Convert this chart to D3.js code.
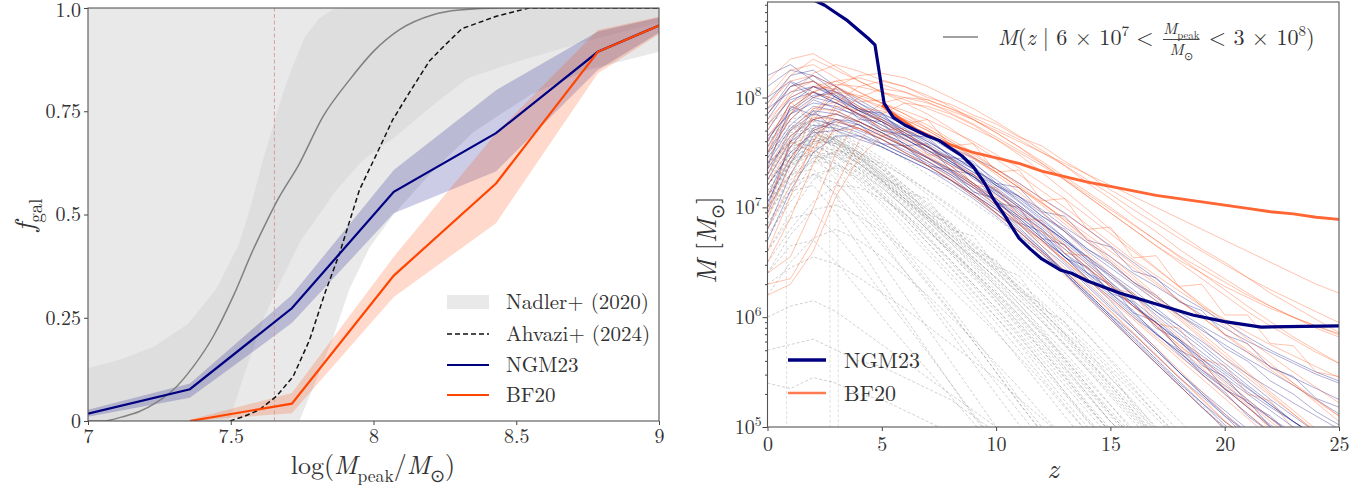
<!DOCTYPE html>
<html>
<head>
<meta charset="utf-8">
<script src="https://cdn.jsdelivr.net/npm/d3@7"></script>
<style>
  body { margin: 0; background: #fff; }
  svg text { fill: #333; white-space: pre; }
</style>
</head>
<body>
<svg id="fig" width="1366" height="490"></svg>
<script>
// ---------------- left panel: galaxy occupation fraction ----------------
const massTicks = [7, 7.5, 8, 8.5, 9];
const massTickLabels = ["7", "7.5", "8", "8.5", "9"];
const fracTicks = [0, 0.25, 0.5, 0.75, 1.0];
const fracTickLabels = ["0", "0.25", "0.5", "0.75", "1.0"];

// Nadler+ (2020): wide and narrow envelopes, [logMpeak, f]
const nadlerOuterUpper = [[7, 1], [9, 1]];
const nadlerOuterLower = [[7, 0], [7.74, 0], [7.80, 0.10], [7.857, 0.20], [7.916, 0.32], [7.986, 0.42],
  [8.07, 0.50], [8.2, 0.60], [8.35, 0.70], [8.55, 0.79], [8.75, 0.85], [9, 0.894]];
const nadlerInnerUpper = [[7, 0.128], [7.12, 0.15], [7.23, 0.18], [7.35, 0.235], [7.45, 0.32], [7.53, 0.43],
  [7.57, 0.52], [7.613, 0.632], [7.648, 0.713], [7.683, 0.793], [7.718, 0.86], [7.76, 0.93],
  [7.81, 0.975], [7.86, 0.997], [7.9, 1], [9, 1]];
const nadlerInnerLower = [[7, 0], [7.495, 0], [7.548, 0.115], [7.618, 0.253], [7.676, 0.341], [7.746, 0.438],
  [7.79, 0.48], [7.87, 0.56], [7.963, 0.632], [8.08, 0.69], [8.2, 0.76], [8.33, 0.83], [8.5, 0.87],
  [8.75, 0.92], [9, 0.965]];

// grey reference curve (smooth)
const greyCurve = [[7.0, 0], [7.054, 0.0], [7.12, 0.01], [7.18, 0.023], [7.24, 0.045], [7.298, 0.075],
  [7.368, 0.131], [7.438, 0.204], [7.508, 0.301], [7.578, 0.414], [7.62, 0.475], [7.66, 0.53],
  [7.741, 0.624], [7.823, 0.737], [7.916, 0.826], [8.0, 0.895], [8.09, 0.947], [8.206, 0.983],
  [8.30, 0.995], [8.45, 1.0], [9, 1.0]];

// Ahvazi+ (2024)
const ahvaziCurve = [[7.497, 0], [7.55, 0.012], [7.6, 0.027], [7.66, 0.06], [7.718, 0.107], [7.776, 0.196],
  [7.83, 0.31], [7.881, 0.406], [7.951, 0.56], [8.01, 0.645], [8.067, 0.729], [8.13, 0.80],
  [8.196, 0.872], [8.25, 0.91], [8.31, 0.95], [8.43, 0.98], [8.545, 1.0], [9, 1.0]];

// NGM23 and BF20 binned results
const ngmBins = [7.0, 7.357, 7.714, 8.071, 8.429, 8.786, 9.143];
const ngmFrac = [0.018, 0.077, 0.273, 0.555, 0.697, 0.894, 1.0];
const ngmLow = [0.010, 0.056, 0.237, 0.503, 0.604, 0.850, 1.0];
const ngmHigh = [0.027, 0.091, 0.305, 0.608, 0.801, 0.943, 1.0];

const bfBins = [7.357, 7.714, 8.071, 8.429, 8.786, 9.143];
const bfFrac = [0.0, 0.042, 0.352, 0.575, 0.894, 1.0];
const bfLow = [0.0, 0.019, 0.300, 0.479, 0.842, 1.0];
const bfHigh = [0.003, 0.068, 0.398, 0.697, 0.947, 1.0];

const massCut = 7.653;

// ---------------- right panel: mass accretion histories ----------------
const zTicks = [0, 5, 10, 15, 20, 25];
const massDecades = [5, 6, 7, 8];

// log10 M at z = 0, 1, 2, ... for NGM23 haloes
const ngmTracks = [
  [7.55,7.90,8.05,7.95,7.85,7.72,7.63,7.50,7.38,7.22,7.05,6.90,6.72,6.55,6.35,6.18,6.00,5.85,5.68,5.52,5.38,5.22,5.08,4.95],
  [7.80,8.10,8.15,8.00,7.88,7.80,7.70,7.58,7.45,7.32,7.18,7.02,6.85,6.70,6.52,6.38,6.20,6.05,5.92,5.78,5.62,5.48,5.35,5.22,5.10,4.98],
  [7.30,7.70,7.85,7.80,7.70,7.62,7.50,7.40,7.28,7.12,6.98,6.80,6.62,6.42,6.22,6.02,5.85,5.65,5.45,5.28,5.10,4.95],
  [7.95,8.20,8.25,8.10,7.95,7.85,7.75,7.65,7.52,7.40,7.25,7.10,6.95,6.78,6.60,6.45,6.30,6.15,6.02,5.88,5.75,5.62,5.50,5.38,5.25,5.12],
  [7.10,7.55,7.80,7.85,7.75,7.65,7.55,7.42,7.30,7.15,7.00,6.82,6.62,6.40,6.18,5.98,5.78,5.58,5.38,5.18,5.00,4.85],
  [7.65,7.85,7.95,7.92,7.82,7.70,7.62,7.52,7.40,7.28,7.12,6.98,6.82,6.65,6.48,6.30,6.12,5.95,5.78,5.60,5.42,5.25,5.08,4.92],
  [6.80,7.30,7.65,7.80,7.78,7.68,7.58,7.45,7.32,7.18,7.02,6.85,6.65,6.48,6.28,6.08,5.90,5.70,5.50,5.32,5.15,4.98],
  [8.10,8.25,8.20,8.05,7.92,7.80,7.68,7.55,7.42,7.28,7.15,7.00,6.85,6.70,6.55,6.40,6.25,6.08,5.92,5.75,5.58,5.42,5.25,5.10,4.95],
  [7.45,7.75,7.92,7.88,7.78,7.68,7.55,7.45,7.35,7.22,7.08,6.92,6.75,6.55,6.35,6.15,5.92,5.72,5.50,5.30,5.10,4.90],
  [7.70,8.00,8.10,8.02,7.90,7.78,7.66,7.55,7.44,7.32,7.20,7.08,6.92,6.78,6.62,6.48,6.32,6.18,6.05,5.92,5.80,5.68,5.55,5.45,5.35,5.25],
  [7.25,7.60,7.75,7.72,7.65,7.55,7.45,7.35,7.22,7.08,6.92,6.75,6.58,6.40,6.20,6.00,5.80,5.60,5.40,5.22,5.05,4.90],
  [7.90,8.05,8.10,8.00,7.90,7.82,7.72,7.60,7.48,7.35,7.20,7.05,6.88,6.72,6.55,6.38,6.22,6.05,5.88,5.72,5.55,5.38,5.22,5.05,4.92],
  [6.95,7.40,7.70,7.78,7.72,7.62,7.52,7.42,7.30,7.18,7.05,6.90,6.72,6.55,6.38,6.20,6.02,5.85,5.68,5.50,5.35,5.18,5.02,4.88],
  [7.60,7.95,8.10,8.05,7.95,7.82,7.70,7.60,7.48,7.35,7.22,7.06,6.90,6.72,6.52,6.32,6.12,5.92,5.72,5.52,5.35,5.18,5.00,4.85],
  [8.00,8.15,8.05,7.95,7.85,7.75,7.65,7.55,7.45,7.35,7.22,7.10,6.98,6.82,6.68,6.55,6.40,6.28,6.15,6.02,5.90,5.78,5.68,5.58,5.48,5.40],
  [7.35,7.65,7.80,7.75,7.68,7.58,7.48,7.38,7.25,7.12,6.95,6.78,6.60,6.42,6.22,6.02,5.82,5.62,5.42,5.22,5.02,4.85],
  [7.50,7.85,8.00,7.95,7.85,7.75,7.62,7.52,7.40,7.28,7.15,7.00,6.85,6.68,6.50,6.32,6.15,5.98,5.80,5.62,5.45,5.30,5.15,5.00,4.88],
  [6.70,7.15,7.50,7.65,7.65,7.58,7.48,7.38,7.25,7.10,6.95,6.78,6.60,6.40,6.20,6.00,5.78,5.58,5.38,5.18,4.98],
  [7.85,8.10,8.20,8.10,7.98,7.86,7.75,7.65,7.55,7.45,7.35,7.22,7.08,6.95,6.80,6.65,6.50,6.35,6.20,6.08,5.95,5.82,5.70,5.60,5.50,5.42],
  [7.40,7.72,7.88,7.85,7.78,7.68,7.58,7.46,7.34,7.20,7.05,6.88,6.70,6.50,6.30,6.10,5.90,5.70,5.50,5.30,5.12,4.95],
  [7.75,7.98,8.05,7.98,7.88,7.78,7.68,7.56,7.42,7.28,7.12,6.96,6.80,6.62,6.45,6.28,6.10,5.95,5.78,5.62,5.48,5.32,5.18,5.05,4.92],
  [7.20,7.50,7.68,7.70,7.62,7.55,7.45,7.35,7.25,7.12,6.98,6.85,6.70,6.55,6.40,6.25,6.10,5.95,5.80,5.65,5.50,5.35,5.20,5.05,4.90],
  [8.20,8.30,8.15,8.00,7.88,7.78,7.66,7.55,7.42,7.30,7.16,7.02,6.86,6.70,6.54,6.36,6.20,6.02,5.85,5.68,5.52,5.36,5.20,5.05,4.92],
  [7.05,7.45,7.72,7.80,7.75,7.65,7.55,7.45,7.33,7.20,7.06,6.92,6.76,6.58,6.40,6.22,6.04,5.86,5.66,5.48,5.30,5.12,4.95],
  [7.48,7.80,7.98,7.90,7.84,7.70,7.66,7.52,7.44,7.26,7.14,6.94,6.80,6.58,6.44,6.22,6.06,5.84,5.70,5.48,5.32,5.10,4.95],
  [7.62,7.88,8.02,8.04,7.90,7.84,7.70,7.62,7.46,7.38,7.20,7.10,6.92,6.80,6.62,6.50,6.32,6.20,6.02,5.90,5.72,5.60,5.42,5.30,5.14,5.02],
  [7.36,7.92,7.84,8.02,7.80,7.78,7.56,7.58,7.34,7.30,7.04,7.00,6.72,6.66,6.40,6.30,6.04,5.96,5.70,5.60,5.34,5.24,5.00,4.90],
  [7.00,7.60,7.88,7.70,7.76,7.58,7.56,7.38,7.34,7.14,7.08,6.86,6.78,6.54,6.46,6.22,6.14,5.90,5.80,5.56,5.46,5.22,5.10,4.90],
  [7.85,8.14,8.00,8.08,7.88,7.86,7.66,7.64,7.46,7.42,7.22,7.18,6.96,6.92,6.70,6.64,6.42,6.36,6.14,6.06,5.84,5.76,5.54,5.46,5.26,5.18]
];

// log10 M at z = 0, 1, 2, ... for BF20 haloes
const bfTracks = [
  [7.40,7.85,8.10,8.15,8.05,7.95,7.85,7.75,7.62,7.50,7.35,7.20,7.05,6.88,6.70,6.52,6.35,6.18,6.00,5.82,5.65,5.48,5.30,5.12,4.95],
  [6.30,6.35,6.70,7.20,7.60,7.85,7.95,7.92,7.85,7.75,7.62,7.48,7.32,7.15,6.98,6.80,6.62,6.45,6.28,6.10,5.92,5.75,5.58,5.40,5.22,5.05],
  [7.90,8.20,8.35,8.25,8.15,8.05,7.98,7.90,7.82,7.72,7.62,7.50,7.38,7.25,7.10,6.95,6.80,6.65,6.52,6.40,6.28,6.18,6.08,6.00,5.92,5.85],
  [7.60,7.95,8.05,7.98,7.85,7.72,7.60,7.48,7.35,7.20,7.02,6.85,6.65,6.45,6.25,6.05,5.85,5.65,5.45,5.25,5.05,4.88],
  [6.60,7.10,7.60,7.95,8.10,8.15,8.10,8.02,7.92,7.80,7.68,7.55,7.40,7.25,7.10,6.95,6.80,6.65,6.50,6.35,6.20,6.05,5.92,5.80,5.68,5.58],
  [8.00,8.25,8.30,8.18,8.05,7.95,7.85,7.72,7.60,7.46,7.32,7.18,7.02,6.85,6.68,6.50,6.32,6.15,5.98,5.80,5.62,5.45,5.28,5.12,4.96],
  [7.20,7.55,7.80,7.85,7.78,7.66,7.55,7.42,7.28,7.12,6.95,6.78,6.58,6.38,6.18,5.98,5.78,5.58,5.38,5.18,4.98],
  [6.90,7.40,7.85,8.10,8.20,8.22,8.18,8.10,8.00,7.90,7.78,7.65,7.52,7.38,7.22,7.08,6.92,6.78,6.62,6.48,6.35,6.22,6.10,6.00,5.90,5.82],
  [7.75,8.05,8.15,8.05,7.92,7.80,7.68,7.56,7.44,7.30,7.16,7.00,6.84,6.66,6.48,6.30,6.10,5.92,5.72,5.54,5.35,5.18,5.00,4.85],
  [6.50,6.90,7.40,7.75,7.90,7.88,7.80,7.70,7.58,7.45,7.30,7.14,6.96,6.78,6.58,6.40,6.20,6.00,5.82,5.62,5.44,5.25,5.08,4.90],
  [8.15,8.35,8.40,8.28,8.15,8.05,7.95,7.85,7.72,7.58,7.44,7.30,7.15,7.00,6.84,6.68,6.52,6.38,6.24,6.10,5.98,5.86,5.75,5.65,5.55,5.45],
  [7.35,7.70,7.90,7.88,7.78,7.68,7.56,7.45,7.32,7.18,7.02,6.86,6.70,6.52,6.35,6.18,6.00,5.82,5.65,5.48,5.30,5.12,4.95],
  [7.00,7.30,7.60,7.85,8.00,8.08,8.05,7.98,7.90,7.82,7.72,7.62,7.50,7.38,7.25,7.12,6.98,6.85,6.72,6.60,6.48,6.36,6.25,6.15,6.05,5.95],
  [7.85,8.10,8.15,8.02,7.90,7.78,7.66,7.52,7.38,7.22,7.05,6.88,6.70,6.52,6.32,6.12,5.92,5.72,5.52,5.32,5.12,4.92],
  [6.80,7.20,7.55,7.70,7.72,7.65,7.56,7.46,7.35,7.22,7.08,6.94,6.78,6.62,6.45,6.28,6.10,5.92,5.75,5.58,5.40,5.22,5.05,4.90],
  [7.50,7.80,8.00,8.05,8.02,7.95,7.88,7.80,7.70,7.60,7.48,7.36,7.22,7.08,6.92,6.76,6.60,6.44,6.28,6.12,5.96,5.80,5.65,5.50,5.36,5.22],
  [7.65,7.90,8.05,8.12,8.10,8.05,8.00,7.95,7.88,7.80,7.70,7.60,7.50,7.40,7.30,7.20,7.10,7.00,6.90,6.80,6.70,6.60,6.50,6.40,6.30,6.22],
  [7.10,7.45,7.70,7.78,7.72,7.62,7.50,7.38,7.26,7.12,6.98,6.84,6.68,6.52,6.34,6.16,5.98,5.80,5.62,5.44,5.26,5.08,4.90],
  [6.40,6.55,7.00,7.50,7.80,7.95,8.00,7.98,7.90,7.80,7.68,7.55,7.42,7.28,7.14,7.00,6.85,6.70,6.55,6.40,6.25,6.10,5.96,5.82,5.70,5.58],
  [7.95,8.15,8.20,8.10,8.00,7.90,7.80,7.70,7.58,7.46,7.32,7.18,7.04,6.90,6.75,6.60,6.45,6.30,6.15,6.00,5.85,5.70,5.55,5.40,5.25,5.10],
  [7.30,7.65,7.82,7.80,7.72,7.62,7.50,7.38,7.25,7.10,6.94,6.78,6.60,6.42,6.24,6.06,5.86,5.66,5.46,5.26,5.06,4.88],
  [7.55,7.85,8.05,8.15,8.18,8.12,8.05,7.96,7.86,7.76,7.64,7.52,7.40,7.26,7.12,6.98,6.84,6.70,6.56,6.44,6.32,6.20,6.10,6.00,5.92,5.84],
  [6.20,6.30,6.60,7.10,7.45,7.65,7.70,7.65,7.55,7.44,7.32,7.18,7.04,6.88,6.72,6.55,6.38,6.20,6.02,5.85,5.68,5.50,5.32,5.15,4.98],
  [7.80,8.00,8.10,8.08,8.00,7.92,7.82,7.72,7.60,7.48,7.35,7.22,7.08,6.94,6.80,6.64,6.48,6.32,6.16,6.00,5.84,5.68,5.52,5.38,5.24,5.10],
  [7.25,7.62,7.90,7.96,7.84,7.80,7.62,7.56,7.38,7.30,7.10,6.98,6.78,6.66,6.44,6.30,6.10,5.94,5.74,5.58,5.36,5.20,4.98],
  [7.70,8.02,8.22,8.30,8.24,8.16,8.10,8.00,7.94,7.84,7.76,7.64,7.56,7.42,7.30,7.16,7.04,6.90,6.76,6.62,6.50,6.36,6.22,6.10,5.98,5.86],
  [7.50,7.96,7.78,8.10,7.96,7.98,7.76,7.80,7.56,7.58,7.32,7.34,7.06,7.08,6.80,6.82,6.54,6.56,6.28,6.30,6.02,6.02,5.76,5.74,5.50,5.46],
  [6.95,7.60,7.50,7.92,7.88,7.70,7.72,7.48,7.46,7.20,7.18,6.90,6.88,6.58,6.56,6.26,6.22,5.94,5.90,5.62,5.56,5.30,5.24,4.98]
];

// log10 M at z = 0, 1, 2, ... for haloes outside the selection (dashed grey)
const otherTracks = [
  [7.20,7.50,7.65,7.55,7.40,7.22,7.02,6.82,6.62,6.42,6.22,6.00,5.78,5.55,5.30,5.05,4.85],
  [7.50,7.70,7.75,7.65,7.50,7.32,7.12,6.92,6.72,6.52,6.32,6.12,5.90,5.68,5.45,5.20,4.95],
  [6.90,7.30,7.50,7.48,7.35,7.18,7.00,6.80,6.58,6.38,6.15,5.92,5.70,5.45,5.20,4.95],
  [7.60,7.80,7.85,7.70,7.55,7.38,7.20,7.02,6.84,6.65,6.46,6.26,6.06,5.85,5.62,5.40,5.18,4.95],
  [7.10,7.40,7.60,7.62,7.50,7.35,7.15,6.95,6.75,6.55,6.35,6.12,5.88,5.62,5.38,5.12,4.90],
  [7.35,7.55,7.62,7.50,7.35,7.15,6.95,6.72,6.50,6.28,6.05,5.82,5.58,5.32,5.08,4.85],
  [6.70,7.10,7.40,7.52,7.45,7.30,7.12,6.92,6.72,6.52,6.30,6.08,5.85,5.62,5.38,5.15,4.92],
  [7.75,7.90,7.80,7.62,7.45,7.28,7.10,6.92,6.75,6.58,6.40,6.22,6.02,5.82,5.60,5.38,5.15,4.92],
  [7.25,7.45,7.55,7.48,7.32,7.12,6.90,6.68,6.45,6.22,6.00,5.78,5.55,5.30,5.05,4.85],
  [7.00,7.35,7.58,7.60,7.48,7.32,7.15,6.98,6.80,6.62,6.44,6.25,6.05,5.85,5.65,5.45,5.22,5.00,4.85],
  [7.45,7.65,7.70,7.58,7.42,7.25,7.05,6.85,6.64,6.42,6.20,5.98,5.75,5.52,5.28,5.05,4.85],
  [6.60,6.95,7.25,7.38,7.32,7.18,7.00,6.80,6.60,6.40,6.18,5.95,5.72,5.48,5.22,4.98],
  [7.30,7.60,7.72,7.62,7.48,7.30,7.12,6.95,6.78,6.60,6.42,6.22,6.02,5.80,5.58,5.35,5.12,4.90],
  [7.15,7.42,7.52,7.42,7.25,7.05,6.85,6.62,6.40,6.18,5.95,5.70,5.45,5.20,4.95],
  [7.55,7.72,7.80,7.68,7.52,7.35,7.18,7.00,6.82,6.62,6.42,6.20,5.98,5.75,5.52,5.28,5.05,4.85],
  [6.85,7.20,7.45,7.50,7.40,7.25,7.08,6.90,6.70,6.50,6.28,6.06,5.84,5.60,5.36,5.12,4.90],
  [7.40,7.58,7.65,7.55,7.38,7.20,7.00,6.80,6.58,6.36,6.14,5.90,5.66,5.42,5.18,4.95],
  [7.05,7.38,7.55,7.52,7.40,7.24,7.06,6.88,6.68,6.48,6.28,6.08,5.86,5.64,5.42,5.20,4.98],
  [7.65,7.78,7.75,7.60,7.44,7.26,7.08,6.90,6.72,6.54,6.36,6.16,5.96,5.74,5.52,5.30,5.08,4.88],
  [7.20,7.48,7.62,7.58,7.45,7.28,7.08,6.88,6.68,6.46,6.24,6.02,5.78,5.54,5.30,5.05,4.85],
  [7.35,7.62,7.78,7.70,7.58,7.45,7.30,7.15,7.00,6.84,6.66,6.48,6.28,6.06,5.84,5.60,5.36,5.12,4.90],
  [6.95,7.25,7.42,7.40,7.28,7.12,6.94,6.74,6.52,6.30,6.08,5.84,5.58,5.32,5.06,4.85],
  [7.50,7.68,7.72,7.60,7.46,7.30,7.14,6.98,6.82,6.66,6.50,6.32,6.14,5.95,5.76,5.55,5.34,5.12,4.92],
  [7.10,7.38,7.48,7.40,7.22,7.02,6.80,6.58,6.36,6.12,5.88,5.62,5.36,5.10,4.85],
  [7.25,7.52,7.66,7.62,7.50,7.36,7.20,7.04,6.86,6.68,6.48,6.28,6.06,5.84,5.62,5.38,5.14,4.90],
  [6.75,7.05,7.30,7.36,7.26,7.10,6.92,6.72,6.52,6.30,6.08,5.86,5.62,5.38,5.14,4.90],
  [7.60,7.75,7.70,7.55,7.40,7.24,7.08,6.92,6.76,6.60,6.44,6.28,6.10,5.92,5.72,5.52,5.30,5.08,4.88],
  [7.00,7.28,7.45,7.46,7.36,7.22,7.06,6.90,6.72,6.54,6.36,6.16,5.96,5.76,5.54,5.32,5.10,4.90],
  [7.40,7.60,7.68,7.58,7.42,7.24,7.04,6.84,6.62,6.40,6.18,5.94,5.70,5.46,5.20,4.95],
  [6.50,6.80,7.05,7.20,7.18,7.08,6.94,6.78,6.60,6.42,6.22,6.02,5.80,5.58,5.34,5.10,4.88],
  [7.15,7.45,7.62,7.65,7.55,7.42,7.28,7.12,6.96,6.80,6.62,6.44,6.24,6.04,5.84,5.62,5.40,5.18,4.96],
  [7.30,7.50,7.58,7.46,7.30,7.10,6.90,6.68,6.46,6.24,6.00,5.76,5.50,5.24,5.00],
  [7.45,7.70,7.80,7.74,7.66,7.55,7.44,7.30,7.18,7.04,6.90,6.74,6.58,6.40,6.22,6.02,5.82,5.62,5.40,5.20,4.98],
  [7.20,7.48,7.60,7.58,7.50,7.40,7.28,7.16,7.02,6.86,6.70,6.52,6.34,6.14,5.94,5.72,5.50,5.28,5.06,4.85],
  [7.10,7.40,7.50,7.35,7.12,6.88,6.62,6.36,6.10,5.82,5.55,5.26,5.00,4.80],
  [6.80,7.15,7.30,7.22,7.02,6.80,6.55,6.30,6.04,5.78,5.50,5.22,4.96],
  [6.40,6.75,6.98,7.02,6.92,6.78,6.62,6.45,6.26,6.06,5.86,5.64,5.42,5.18,4.95],
  [6.20,6.50,6.72,6.80,6.70,6.55,6.38,6.20,6.00,5.80,5.58,5.36,5.12,4.90],
  [7.30,7.55,7.70,7.52,7.48,7.26,7.18,6.94,6.86,6.60,6.52,6.24,6.12,5.86,5.70,5.44,5.24,4.98],
  [7.05,7.42,7.60,7.64,7.44,7.40,7.14,7.08,6.80,6.74,6.46,6.38,6.08,5.96,5.66,5.50,5.20,4.96],
  [7.05,7.30,7.35,7.10,6.80,6.50,6.20,5.90,5.60,5.30,5.00,4.80],
  [6.85,7.15,7.20,6.95,6.65,6.32,6.00,5.70,5.40,5.10,4.85],
  [7.20,7.45,7.48,7.25,6.98,6.70,6.42,6.14,5.86,5.58,5.30,5.02,4.80],
  [6.60,6.90,6.95,6.75,6.50,6.22,5.95,5.68,5.40,5.12,4.85],
  [7.40,7.60,7.55,7.32,7.08,6.84,6.58,6.32,6.06,5.78,5.50,5.22,4.95],
  [6.95,7.22,7.30,7.12,6.90,6.66,6.42,6.18,5.92,5.66,5.40,5.14,4.88],
  [6.40,6.65,6.70,6.50,6.25,6.00,5.76,5.52,5.28,5.04,4.80],
  [6.00,6.10,6.15,6.05,5.90,5.75,5.60,5.45,5.30,5.15,5.00,4.85],
  [5.40,5.35,5.45,5.40,5.30,5.25,5.15,5.05,4.95],
  [5.70,5.75,5.80,5.70,5.60,5.55,5.45,5.35,5.25,5.10,4.95],
  [6.30,6.45,6.55,6.48,6.36,6.22,6.08,5.92,5.76,5.60,5.44,5.26,5.08,4.90]
];

// haloes whose track ends abruptly: [z, log10 M]
const droppedTracks = [
  [[0, 7.15], [0.5, 7.10], [0.82, 7.02], [0.84, 4.8]],
  [[0, 7.40], [1, 7.55], [2, 7.62], [2.72, 7.48], [2.74, 4.8]],
  [[0, 7.05], [1, 7.30], [2, 7.42], [3.08, 7.30], [3.1, 4.8]]
];

// summary tracks, [z, log10 M]
const ngmMedian = [[0, 9.15], [1, 9.05], [2, 8.89], [2.5, 8.84], [3, 8.77], [3.5, 8.70], [4, 8.61],
  [4.4, 8.54], [4.7, 8.48], [5.1, 7.95], [5.5, 7.82], [6, 7.75], [7, 7.65], [7.5, 7.61], [8, 7.54],
  [8.5, 7.47], [9, 7.37], [9.5, 7.22], [9.9, 7.07], [10.3, 6.95], [11, 6.72], [11.5, 6.62], [12, 6.53],
  [12.8, 6.43], [13.3, 6.40], [14, 6.33], [15.4, 6.22], [17, 6.12], [18.6, 6.02], [20, 5.96],
  [21.6, 5.91], [25, 5.92]];
const bfMedian = [[5, 7.93], [5.5, 7.85], [6, 7.78], [6.5, 7.71], [7, 7.66], [7.5, 7.61], [8, 7.57],
  [9, 7.50], [10, 7.45], [11, 7.40], [12, 7.33], [13, 7.28], [14, 7.23], [15, 7.19], [16, 7.15],
  [17, 7.11], [18, 7.08], [19, 7.05], [20, 7.02], [21, 6.99], [22, 6.96], [23, 6.94], [24, 6.91],
  [25, 6.89]];

// ---------------------------------------------------------------------
// serif face for the figure text: first installed candidate wins
const serifCandidates = ["Latin Modern Roman", "CMU Serif", "DejaVu Serif", "Liberation Serif",
  "Noto Serif", "Tinos", "Times New Roman", "FreeSerif", "Nimbus Roman", "TeX Gyre Termes"];
function pickFont(cands) {
  const ctx = document.createElement("canvas").getContext("2d");
  const probe = "Mmwl10.75 NGM23 BF20 (2024)";
  for (const f of cands) {
    for (const base of ["monospace", "sans-serif"]) {
      ctx.font = `40px ${base}`;
      const w0 = ctx.measureText(probe).width;
      ctx.font = `40px "${f}", ${base}`;
      if (Math.abs(ctx.measureText(probe).width - w0) > 0.5) return `"${f}", serif`;
    }
  }
  return "serif";
}
const FONT = pickFont(serifCandidates);

const svg = d3.select("#fig");
const defs = svg.append("defs");

function txt(parent) {
  return parent.append("text").style("font-family", FONT);
}

// text runs with italic / sub / superscript pieces
function addRuns(sel, parts, size) {
  let off = 0;
  parts.forEach(p => {
    const target = p.sup ? -size * 0.42 : (p.sub ? size * 0.3 : 0);
    const ts = sel.append("tspan").attr("dy", target - off).text(p.t);
    off = target;
    if (p.i) ts.attr("font-style", "italic");
    if (p.sup || p.sub) ts.attr("font-size", size * 0.68);
  });
  return sel;
}

// ===== left panel =====
const xL = d3.scaleLinear().domain([7, 9]).range([88, 659]);
const yL = d3.scaleLinear().domain([0, 1]).range([421, 8]);

defs.append("clipPath").attr("id", "clipL").append("rect")
  .attr("x", 88).attr("y", 8).attr("width", 571).attr("height", 413);

const gL = svg.append("g").attr("clip-path", "url(#clipL)");
const poly = d3.line().x(d => xL(d[0])).y(d => yL(d[1]));
function bandPath(upper, lower) {
  return poly(upper.concat(lower.slice().reverse())) + "Z";
}

gL.append("path").attr("d", bandPath(nadlerOuterUpper, nadlerOuterLower))
  .attr("fill", "#d3d3d3").attr("fill-opacity", 0.5);
gL.append("path").attr("d", bandPath(nadlerInnerUpper, nadlerInnerLower))
  .attr("fill", "#d3d3d3").attr("fill-opacity", 0.5);

const ngmArea = d3.area().x((d, i) => xL(ngmBins[i])).y0((d, i) => yL(ngmLow[i])).y1((d, i) => yL(ngmHigh[i]));
gL.append("path").attr("d", ngmArea(ngmBins)).attr("fill", "#000080").attr("fill-opacity", 0.2);
const bfArea = d3.area().x((d, i) => xL(bfBins[i])).y0((d, i) => yL(bfLow[i])).y1((d, i) => yL(bfHigh[i]));
gL.append("path").attr("d", bfArea(bfBins)).attr("fill", "#ff4500").attr("fill-opacity", 0.2);

gL.append("line").attr("x1", xL(massCut)).attr("x2", xL(massCut)).attr("y1", yL(0)).attr("y2", yL(1))
  .attr("stroke", "#d49a9a").attr("stroke-width", 0.9).attr("stroke-dasharray", "4,2.5");

gL.append("path").attr("d", d3.line().curve(d3.curveMonotoneX).x(d => xL(d[0])).y(d => yL(d[1]))(greyCurve))
  .attr("fill", "none").attr("stroke", "#808080").attr("stroke-width", 1.5);
gL.append("path").attr("d", poly(ahvaziCurve))
  .attr("fill", "none").attr("stroke", "#111").attr("stroke-width", 1.5).attr("stroke-dasharray", "5,3");

const ngmLine = d3.line().x((d, i) => xL(ngmBins[i])).y(d => yL(d));
gL.append("path").attr("d", ngmLine(ngmFrac)).attr("fill", "none").attr("stroke", "#000080").attr("stroke-width", 2.2);
const bfLine = d3.line().x((d, i) => xL(bfBins[i])).y(d => yL(d));
gL.append("path").attr("d", bfLine(bfFrac)).attr("fill", "none").attr("stroke", "#ff4500").attr("stroke-width", 2.2);

// axes
function styleAxis(g, size) {
  g.select(".domain").remove();
  g.selectAll(".tick line").attr("stroke", "#444").attr("stroke-width", 1);
  g.selectAll(".tick text").attr("font-size", size).attr("fill", "#333").style("font-family", FONT);
}
const axLx = svg.append("g").attr("transform", "translate(0,421)")
  .call(d3.axisBottom(xL).tickValues(massTicks).tickFormat((d, i) => massTickLabels[i]).tickSize(4).tickPadding(4));
styleAxis(axLx, 20);
const axLy = svg.append("g").attr("transform", "translate(88,0)")
  .call(d3.axisLeft(yL).tickValues(fracTicks).tickFormat((d, i) => fracTickLabels[i]).tickSize(4).tickPadding(3));
styleAxis(axLy, 20);
axLy.selectAll(".tick text").filter(d => d === 1).attr("dy", "0.4em");

svg.append("rect").attr("x", 88).attr("y", 8).attr("width", 571).attr("height", 413)
  .attr("fill", "none").attr("stroke", "#555").attr("stroke-width", 1.1);

// axis labels
addRuns(txt(svg).attr("x", 373).attr("y", 474).attr("text-anchor", "middle").attr("font-size", 26),
  [{t: "log("}, {t: "M", i: true}, {t: "peak", sub: true}, {t: "/"}, {t: "M", i: true}, {t: "⊙", sub: true}, {t: ")"}], 26);
addRuns(txt(svg).attr("transform", "translate(34,215) rotate(-90)").attr("text-anchor", "middle").attr("font-size", 28),
  [{t: "f", i: true}, {t: "gal", sub: true}], 28);

// legend
const legL = svg.append("g").attr("transform", "translate(447,0)");
const legRows = [302, 334, 365, 395];
legL.append("rect").attr("x", 0).attr("y", legRows[0] - 7).attr("width", 42).attr("height", 14)
  .attr("fill", "#d3d3d3").attr("fill-opacity", 0.5);
legL.append("line").attr("x1", 0).attr("x2", 42).attr("y1", legRows[1]).attr("y2", legRows[1])
  .attr("stroke", "#111").attr("stroke-width", 1.5).attr("stroke-dasharray", "5,3");
legL.append("line").attr("x1", 0).attr("x2", 42).attr("y1", legRows[2]).attr("y2", legRows[2])
  .attr("stroke", "#000080").attr("stroke-width", 2.2);
legL.append("line").attr("x1", 0).attr("x2", 42).attr("y1", legRows[3]).attr("y2", legRows[3])
  .attr("stroke", "#ff4500").attr("stroke-width", 2.2);
["Nadler+ (2020)", "Ahvazi+ (2024)", "NGM23", "BF20"].forEach((s, i) => {
  txt(legL).attr("x", 59).attr("y", legRows[i] + 7).attr("font-size", 21).text(s);
});

// ===== right panel =====
const x0R = 767.5, x1R = 1339, yTopR = 2, yBotR = 427;
const xR = d3.scaleLinear().domain([0, 25]).range([x0R, x1R]);
const yR = d3.scaleLog().domain([1e5, Math.pow(10, 8.87)]).range([yBotR, yTopR]);

defs.append("clipPath").attr("id", "clipR").append("rect")
  .attr("x", x0R).attr("y", yTopR).attr("width", x1R - x0R).attr("height", yBotR - yTopR);
const gR = svg.append("g").attr("clip-path", "url(#clipR)");

const trackLine = d3.line().x((d, i) => xR(i)).y(d => yR(Math.pow(10, d)));
const pairLine = d3.line().x(d => xR(d[0])).y(d => yR(Math.pow(10, d[1])));

gR.selectAll("path.other").data(otherTracks).join("path").attr("class", "other")
  .attr("d", trackLine).attr("fill", "none").attr("stroke", "#7a7a7a").attr("stroke-opacity", 0.45)
  .attr("stroke-width", 0.8).attr("stroke-dasharray", "3,2");
gR.selectAll("path.dropped").data(droppedTracks).join("path").attr("class", "dropped")
  .attr("d", pairLine).attr("fill", "none").attr("stroke", "#7a7a7a").attr("stroke-opacity", 0.3)
  .attr("stroke-width", 0.8).attr("stroke-dasharray", "3,2");
gR.selectAll("path.ngm").data(ngmTracks).join("path").attr("class", "ngm")
  .attr("d", trackLine).attr("fill", "none").attr("stroke", "#000080").attr("stroke-opacity", 0.36)
  .attr("stroke-width", 0.9);
gR.selectAll("path.bf").data(bfTracks).join("path").attr("class", "bf")
  .attr("d", trackLine).attr("fill", "none").attr("stroke", "#ff4500").attr("stroke-opacity", 0.36)
  .attr("stroke-width", 0.9);

gR.append("path").attr("d", pairLine(bfMedian)).attr("fill", "none")
  .attr("stroke", "#ff6633").attr("stroke-width", 2.8);
gR.append("path").attr("d", pairLine(ngmMedian)).attr("fill", "none")
  .attr("stroke", "#000080").attr("stroke-width", 3.2).attr("stroke-linejoin", "round");

// right axes
const axRx = svg.append("g").attr("transform", `translate(0,${yBotR})`)
  .call(d3.axisBottom(xR).tickValues(zTicks).tickFormat(d3.format("d")).tickSize(4).tickPadding(6));
styleAxis(axRx, 20);

const majors = massDecades.map(k => Math.pow(10, k));
const minors = [];
massDecades.forEach(k => { for (let m = 2; m <= 9; m++) { const v = m * Math.pow(10, k); if (v <= yR.domain()[1]) minors.push(v); } });
const axRy = svg.append("g").attr("transform", `translate(${x0R},0)`)
  .call(d3.axisLeft(yR).tickValues(majors).tickFormat("").tickSize(5));
styleAxis(axRy, 20);
const axRyMinor = svg.append("g").attr("transform", `translate(${x0R},0)`)
  .call(d3.axisLeft(yR).tickValues(minors).tickFormat("").tickSize(2.5));
styleAxis(axRyMinor, 20);
massDecades.forEach(k => {
  addRuns(txt(svg).attr("x", x0R - 6).attr("y", yR(Math.pow(10, k)) + 7)
    .attr("text-anchor", "end").attr("font-size", 20), [{t: "10"}, {t: String(k), sup: true}], 20);
});

svg.append("rect").attr("x", x0R).attr("y", yTopR).attr("width", x1R - x0R).attr("height", yBotR - yTopR)
  .attr("fill", "none").attr("stroke", "#555").attr("stroke-width", 1.1);

addRuns(txt(svg).attr("transform", "translate(716,240) rotate(-90)").attr("text-anchor", "middle").attr("font-size", 27),
  [{t: "M", i: true}, {t: " ["}, {t: "M", i: true}, {t: "⊙", sub: true}, {t: "]"}], 27);
txt(svg).attr("x", 1053).attr("y", 478).attr("text-anchor", "middle")
  .attr("font-size", 28).attr("font-style", "italic").text("z");

// top legend entry with a stacked fraction, scaled to span its slot
svg.append("line").attr("x1", 943).attr("x2", 978).attr("y1", 37).attr("y2", 37)
  .attr("stroke", "#808080").attr("stroke-width", 1.5);
const legTop = svg.append("g");
function drawTopLegend(fs) {
  legTop.selectAll("*").remove();
  const x0 = 998, base = 45;
  const t1 = addRuns(txt(legTop).attr("x", x0).attr("y", base).attr("font-size", fs),
    [{t: "M", i: true}, {t: "("}, {t: "z", i: true}, {t: " | 6 × 10"}, {t: "7", sup: true}, {t: " < "}], fs);
  const fx = x0 + t1.node().getComputedTextLength() + 2;
  const fsub = fs * 0.72;
  const num = addRuns(txt(legTop).attr("x", fx).attr("y", base - 11).attr("font-size", fsub),
    [{t: "M", i: true}, {t: "peak", sub: true}], fsub);
  const den = addRuns(txt(legTop).attr("y", base + 10).attr("font-size", fsub),
    [{t: "M", i: true}, {t: "⊙", sub: true}], fsub);
  const wn = num.node().getComputedTextLength();
  const wd = den.node().getComputedTextLength();
  const fw = Math.max(wn, wd);
  num.attr("x", fx + (fw - wn) / 2);
  den.attr("x", fx + (fw - wd) / 2);
  legTop.append("line").attr("x1", fx).attr("x2", fx + fw).attr("y1", base - 5.5).attr("y2", base - 5.5)
    .attr("stroke", "#333").attr("stroke-width", 0.9);
  const t3 = addRuns(txt(legTop).attr("x", fx + fw + 2).attr("y", base).attr("font-size", fs),
    [{t: " < 3 × 10"}, {t: "8", sup: true}, {t: ")"}], fs);
  return fx + fw + 2 + t3.node().getComputedTextLength() - x0;
}
const wTop = drawTopLegend(21);
drawTopLegend(Math.min(23, 21 * 317 / wTop));

// bottom legend
svg.append("line").attr("x1", 788).attr("x2", 826).attr("y1", 360).attr("y2", 360)
  .attr("stroke", "#000080").attr("stroke-width", 3.5);
svg.append("line").attr("x1", 788).attr("x2", 826).attr("y1", 393).attr("y2", 393)
  .attr("stroke", "#ff7a50").attr("stroke-width", 2.5);
txt(svg).attr("x", 844).attr("y", 368).attr("font-size", 22).text("NGM23");
txt(svg).attr("x", 844).attr("y", 401).attr("font-size", 22).text("BF20");
</script>
</body>
</html>
